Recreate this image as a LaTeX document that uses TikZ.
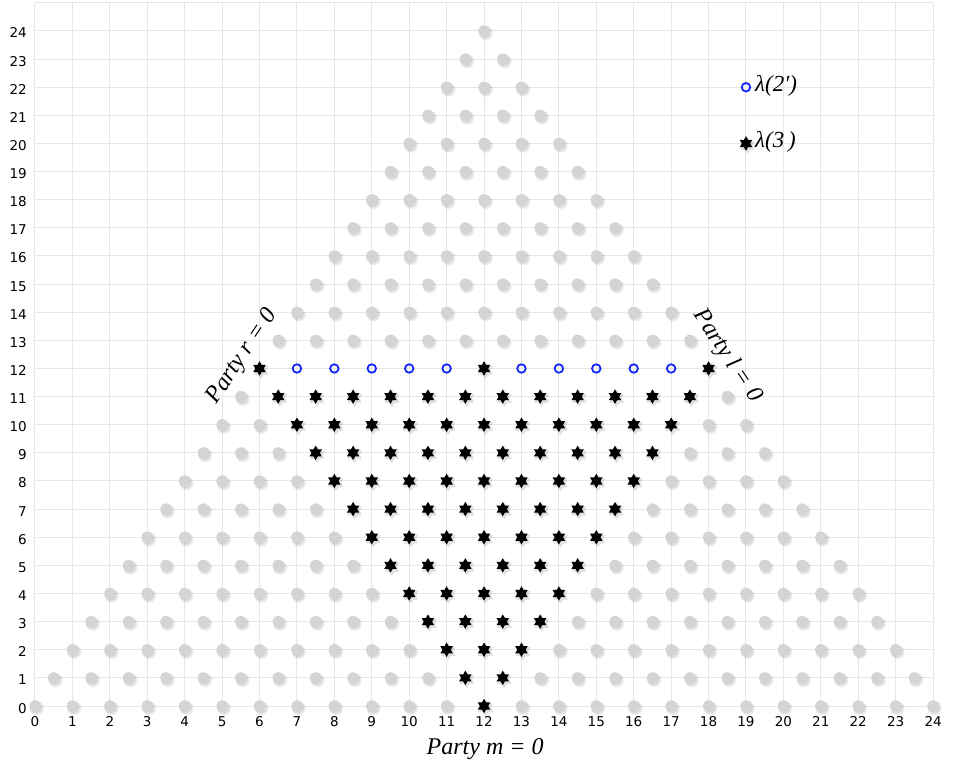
\documentclass[tikz,border=0pt]{standalone}
\usepackage{fontspec}
\setmainfont{Liberation Serif}
\newfontfamily\tickfont{DejaVu Sans}
\usetikzlibrary{shapes.geometric}
\definecolor{gridc}{RGB}{230,230,230}
\definecolor{dotc}{RGB}{212,212,212}
\definecolor{ringc}{RGB}{20,40,250}
\tikzset{
 gridline/.style={draw=gridc, line width=1pt},
 graydot/.style={fill=dotc},
 dotshadow/.style={fill=black, fill opacity=0.08},
 ticklab/.style={font=\tickfont\fontsize{13.5}{14}\selectfont, inner sep=0pt},
 partylab/.style={font=\fontsize{24}{27}\selectfont\itshape, inner sep=0pt},
 legendlab/.style={font=\fontsize{23}{25}\selectfont\itshape, inner sep=0pt, anchor=base west},
 starmark/.style={star, star points=6, star point ratio=1.75, minimum size=14.5pt, inner sep=0pt, fill=black},
 starshadow/.style={star, star points=6, star point ratio=1.6, minimum size=17pt, inner sep=0pt, fill=black, fill opacity=0.12, xshift=1.5pt, yshift=-1.8pt},
 ringmark/.style={circle, draw=ringc, line width=1.8pt, minimum size=8.5pt, inner sep=0pt},
}
\begin{document}
\begin{tikzpicture}[x=37.42pt, y=28.125pt]
\useasboundingbox (-35pt,-60pt) rectangle (929pt,706pt);
% grid
\foreach \i in {0,...,24} \draw[gridline] (\i,0) -- (\i,25);
\foreach \j in {0,...,25} \draw[gridline] (0,\j) -- (24,\j);
% gray dots
\foreach \r in {0,...,24} {
  \pgfmathtruncatemacro\nn{24-\r}
  \foreach \k in {0,...,\nn} {
    \pgfmathsetmacro\xx{\r/2+\k}
    \pgfmathtruncatemacro\isstar{and(\r<=12, abs(\xx-12)<=\r/2+0.01)}
    \ifnum\isstar=0
      \fill[dotshadow] ([shift={(1.8pt,-2.2pt)}]\xx,\r) circle (7pt);
      \fill[dotshadow] ([shift={(1.2pt,-1.5pt)}]\xx,\r) circle (6pt);
      \fill[graydot] (\xx,\r) circle (5.7pt);
    \fi
  }
}
% stars, rows 0..11
\foreach \r in {0,...,11} {
  \foreach \k in {0,...,\r} {
    \pgfmathsetmacro\xx{12-\r/2+\k}
    \node[starshadow] (ss-\r-\k) at (\xx,\r) {};
    \node[starmark] (s-\r-\k) at (\xx,\r) {};
  }
}
% row 12
\foreach \xx in {6,12,18} {
  \node[starshadow] (ss-12-\xx) at (\xx,12) {};
  \node[starmark] (s-12-\xx) at (\xx,12) {};
}
\foreach \xx in {7,8,9,10,11,13,14,15,16,17}
  \node[ringmark] (c-12-\xx) at (\xx,12) {};
% ticks
\foreach \i in {0,...,24} \node[ticklab, anchor=base] (tx\i) at ([yshift=-20pt]\i,0) {\i};
\foreach \j in {0,...,24} \node[ticklab, anchor=base east] (ty\j) at ([xshift=-8pt,yshift=-7pt]0,\j) {\j};
% axis-side labels
\node[partylab, rotate=56.3] (lr) at (5.55,12.43) {Party r = 0};
\node[partylab, rotate=-56.3] (ll) at (18.5,12.45) {Party l = 0};
\node[partylab, anchor=base] (lm) at ([yshift=-48pt]12.03,0) {Party m = 0};
% legend
\node[ringmark] (lg2) at (19,22) {};
\node[legendlab] (lt2) at ([xshift=9pt,yshift=-4pt]19,22) {λ(2′)};
\node[starshadow] (lgs3) at (19,20) {};
\node[starmark] (lg3) at (19,20) {};
\node[legendlab] (lt3) at ([xshift=9pt,yshift=-4pt]19,20) {λ(3\,)};
\end{tikzpicture}
\end{document}
